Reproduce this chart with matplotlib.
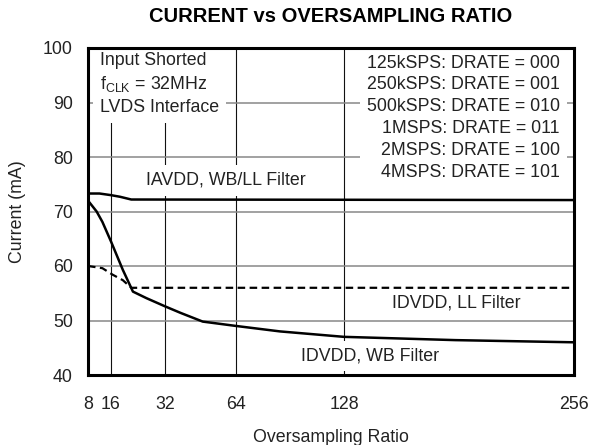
import matplotlib
matplotlib.use("Agg")
import matplotlib.pyplot as plt
import numpy as np

plt.rcParams['font.family'] = ['Liberation Sans', 'DejaVu Sans']

# ---- data ----
osr_ticks = [8, 16, 32, 64, 128, 256]
y_ticks = [40, 50, 60, 70, 80, 90, 100]

iavdd_x = [8, 12, 16, 18.7, 22, 256]
iavdd_y = [73.3, 73.3, 73.0, 72.7, 72.2, 72.1]

idvdd_wb_x = [8, 11, 13, 16, 19.5, 22.5, 26.5, 32, 39, 49, 64, 90, 128, 190, 256]
idvdd_wb_y = [72.0, 70.0, 68.1, 64.5, 59.3, 55.3, 54.1, 52.6, 51.4, 49.8, 49.0, 48.0, 47.0, 46.4, 46.0]

idvdd_ll_x = [8, 13, 16.5, 19.5, 22, 256]
idvdd_ll_y = [60.0, 59.6, 58.4, 57.4, 56.0, 56.0]

drate_lines = ["125kSPS: DRATE = 000", "250kSPS: DRATE = 001", "500kSPS: DRATE = 010",
               "1MSPS: DRATE = 011", "2MSPS: DRATE = 100", "4MSPS: DRATE = 101"]
cond_lines = ["Input Shorted", r"f$_\mathregular{CLK}$ = 32MHz", "LVDS Interface"]

# non-uniform x axis as drawn in the original (tick spacing)
tick_pos = [0, 23, 77, 148, 256, 486]
def fwd(x):
    return np.interp(x, osr_ticks, tick_pos)
def inv(p):
    return np.interp(p, tick_pos, osr_ticks)

fig = plt.figure(figsize=(5.95, 4.45), dpi=100)
ax = fig.add_axes([88/595, 1-375/445, 486/595, 327/445])
ax.set_xscale('function', functions=(fwd, inv))
ax.set_xlim(8, 256)
ax.set_ylim(40, 100)
ax.set_xticks(osr_ticks)
ax.set_xticklabels([str(t) for t in osr_ticks])
ax.set_yticks(y_ticks)
ax.minorticks_off()
fs = 12.8
ax.tick_params(length=0, labelsize=fs, colors='#222222')
ax.tick_params(axis='x', pad=15)
ax.tick_params(axis='y', pad=11)

ax.grid(axis='x', color='#111111', lw=0.8, zorder=1)
ax.grid(axis='y', color='#888888', lw=1.1, zorder=1)
ax.set_axisbelow(True)
for s in ax.spines.values():
    s.set_linewidth(2.2)
    s.set_color('black')
    s.set_zorder(6)

ax.plot(iavdd_x, iavdd_y, color='black', lw=1.8, zorder=4)
ax.plot(idvdd_wb_x, idvdd_wb_y, color='black', lw=1.8, zorder=4)
ax.plot(idvdd_ll_x, idvdd_ll_y, color='black', lw=1.6, ls=(0, (3.4, 2.0)), zorder=4)

bb = dict(facecolor='white', edgecolor='none', pad=5)
ax.text(0.0247, 0.988, "\n".join(cond_lines), transform=ax.transAxes, ha='left', va='top',
        fontsize=fs, color='#222222', linespacing=1.36, bbox=bb, zorder=3)
ax.text(0.971, 0.98, "\n".join(drate_lines), transform=ax.transAxes, ha='right', va='top',
        fontsize=fs, color='#222222', linespacing=1.37, multialignment='right', bbox=bb, zorder=3)
ax.text(0.284, 0.596, "IAVDD, WB/LL Filter", transform=ax.transAxes, ha='center', va='center',
        fontsize=fs, color='#222222', bbox=bb, zorder=3)
ax.text(0.757, 0.220, "IDVDD, LL Filter", transform=ax.transAxes, ha='center', va='center',
        fontsize=fs, color='#222222', bbox=bb, zorder=3)
ax.text(0.580, 0.058, "IDVDD, WB Filter", transform=ax.transAxes, ha='center', va='center',
        fontsize=fs, color='#222222', bbox=bb, zorder=3)

ax.set_xlabel("Oversampling Ratio", fontsize=fs, color='#222222')
ax.xaxis.set_label_coords(0.5, -(438-375)/327)
ax.xaxis.label.set_va('center')
ax.set_ylabel("Current (mA)", fontsize=fs, color='#222222')
ax.yaxis.set_label_coords(-(88-18)/486, 0.5)
ax.yaxis.label.set_va('center')

fig.text(331/595, 1-16/445, "CURRENT vs OVERSAMPLING RATIO", ha='center', va='center',
         fontsize=14.5, fontweight='bold', color='black')

fig.savefig("out.png", dpi=100)
